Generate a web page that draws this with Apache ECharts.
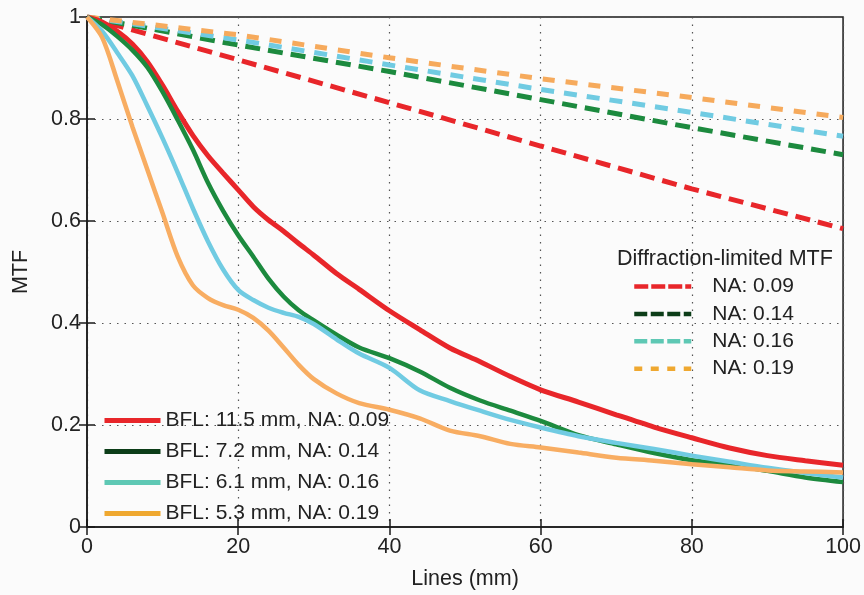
<!DOCTYPE html>
<html>
<head>
<meta charset="utf-8">
<script src="https://cdn.jsdelivr.net/npm/echarts@6/dist/echarts.min.js"></script>
<style>html,body{margin:0;padding:0;background:#fbfbfb;}#c{width:864px;height:595px;}</style>
</head>
<body>
<div id="c"></div>
<script>
// Spatial frequency samples (Lines, mm)
const xMeasured = [0, 2, 4, 6, 8, 10, 12, 14, 16, 18, 20, 22, 24, 26, 28, 30, 33, 36, 40, 44, 48, 52, 56, 60, 65, 70, 75, 80, 85, 90, 95, 100];
// Measured MTF
const mtfBFL115 = [1.0, 0.99, 0.972, 0.947, 0.912, 0.866, 0.815, 0.768, 0.728, 0.694, 0.661, 0.628, 0.602, 0.58, 0.556, 0.533, 0.497, 0.466, 0.424, 0.387, 0.351, 0.324, 0.295, 0.269, 0.245, 0.22, 0.196, 0.175, 0.155, 0.140, 0.130, 0.121];
const mtfBFL72  = [1.0, 0.985, 0.962, 0.935, 0.901, 0.853, 0.798, 0.74, 0.675, 0.62, 0.572, 0.53, 0.487, 0.452, 0.425, 0.405, 0.377, 0.352, 0.331, 0.305, 0.273, 0.248, 0.228, 0.208, 0.18, 0.162, 0.145, 0.131, 0.122, 0.110, 0.097, 0.088];
const mtfBFL61  = [1.0, 0.972, 0.93, 0.885, 0.825, 0.762, 0.695, 0.625, 0.56, 0.505, 0.465, 0.445, 0.43, 0.42, 0.412, 0.398, 0.368, 0.34, 0.312, 0.268, 0.247, 0.228, 0.21, 0.195, 0.178, 0.165, 0.153, 0.14, 0.128, 0.116, 0.106, 0.097];
const mtfBFL53  = [1.0, 0.96, 0.875, 0.785, 0.70, 0.615, 0.53, 0.474, 0.449, 0.435, 0.426, 0.41, 0.385, 0.352, 0.318, 0.29, 0.262, 0.243, 0.23, 0.213, 0.189, 0.178, 0.163, 0.156, 0.146, 0.136, 0.13, 0.123, 0.117, 0.111, 0.109, 0.107];
// Diffraction-limited MTF
const xDiff = [0, 20, 40, 60, 80, 100];
const diffNA009 = [1.0, 0.916, 0.832, 0.747, 0.663, 0.585];
const diffNA014 = [1.0, 0.945, 0.893, 0.838, 0.783, 0.73];
const diffNA016 = [1.0, 0.955, 0.906, 0.858, 0.813, 0.766];
const diffNA019 = [1.0, 0.965, 0.92, 0.879, 0.842, 0.803];
// Labels
const measuredNames = ['BFL: 11.5 mm, NA: 0.09', 'BFL: 7.2 mm, NA: 0.14', 'BFL: 6.1 mm, NA: 0.16', 'BFL: 5.3 mm, NA: 0.19'];
const diffNames = ['NA: 0.09', 'NA: 0.14', 'NA: 0.16', 'NA: 0.19'];
const diffTitle = 'Diffraction-limited MTF';
const xTicks = [0, 20, 40, 60, 80, 100];
const yTicks = [0, 0.2, 0.4, 0.6, 0.8, 1];

const pair = (xs, ys) => xs.map((x, i) => [x, ys[i]]);
const FONT = '"Liberation Sans", Arial, sans-serif';

const lineCol = ['#e8262a', '#1c8a3e', '#70cbe2', '#f8ad62'];
const legSolidCol = ['#e8262a', '#0c3d18', '#5ec8b4', '#efa830'];
const diffCol = ['#e8262a', '#1c8a3e', '#70cbe2', '#f6aa5c'];
const legDiffCol = ['#e8262a', '#0c3d18', '#5ec8b4', '#efa830'];
const dashes = [[15, 8], [15, 8], [13, 10], [12, 11]];
const legDashes = [[14, 3], [13, 3.5], [13, 3.5], [8, 8.5]];

const measured = [mtfBFL115, mtfBFL72, mtfBFL61, mtfBFL53];
const diffs = [diffNA009, diffNA014, diffNA016, diffNA019];

const series = [];
diffs.forEach((d, i) => {
  series.push({
    name: diffNames[i], type: 'line', data: pair(xDiff, d), symbol: 'none', silent: true,
    lineStyle: { color: diffCol[i], width: 5, type: dashes[i] }, itemStyle: { color: diffCol[i] }, z: 2
  });
});
measured.forEach((d, i) => {
  series.push({
    name: measuredNames[i], type: 'line', data: pair(xMeasured, d), symbol: 'none', silent: true, smooth: 0.3,
    lineStyle: { color: lineCol[i], width: i === 0 ? 5 : 4.5 }, itemStyle: { color: lineCol[i] }, z: 3
  });
});

const chart = echarts.init(document.getElementById('c'), null, { renderer: 'canvas' });
chart.setOption({
  backgroundColor: '#fbfbfb',
  animation: false,
  textStyle: { fontFamily: FONT },
  grid: { left: 87, right: 20, top: 17, bottom: 65, show: true, borderColor: '#1a1a1a', borderWidth: 1.5, backgroundColor: 'transparent' },
  title: {
    text: diffTitle, left: 617, top: 248, padding: 0,
    textStyle: { fontFamily: FONT, fontSize: 21.5, fontWeight: 'normal', color: '#222' }
  },
  legend: [
    {
      orient: 'vertical', left: 102, top: 410, padding: 0, itemWidth: 56, itemHeight: 21, itemGap: 10,
      textStyle: { fontFamily: FONT, fontSize: 21, color: '#222' },
      data: measuredNames.map((n, i) => ({ name: n, lineStyle: { color: legSolidCol[i], width: 5, type: 'solid' }, itemStyle: { opacity: 0 } })),
      selectedMode: false
    },
    {
      orient: 'vertical', left: 632, top: 276, padding: 0, itemWidth: 57, itemHeight: 21, itemGap: 6.4,
      textStyle: { fontFamily: FONT, fontSize: 21, color: '#222', padding: [0, 0, 0, 16] },
      data: diffNames.map((n, i) => ({ name: n, lineStyle: { color: legDiffCol[i], width: 4.5, type: legDashes[i] }, itemStyle: { opacity: 0 } })),
      selectedMode: false
    }
  ],
  xAxis: [
    {
      type: 'value', min: 0, max: 100, interval: 20,
      name: 'Lines (mm)', nameLocation: 'middle', nameGap: 41,
      nameTextStyle: { fontFamily: FONT, fontSize: 21.5, color: '#222' },
      axisLine: { show: true, lineStyle: { color: '#1a1a1a', width: 1.5 } },
      axisTick: { show: true, inside: true, length: 8, lineStyle: { color: '#1a1a1a', width: 1.5 } },
      axisLabel: { fontFamily: FONT, fontSize: 21.5, color: '#222', margin: 9,
        formatter: v => xTicks.includes(v) ? String(v) : '' },
      splitLine: { show: true, lineStyle: { color: '#555', width: 1.2, type: [1.5, 6] } }
    },
    {
      type: 'value', min: 0, max: 100, interval: 20, position: 'top',
      axisLine: { show: false }, axisLabel: { show: false }, splitLine: { show: false },
      axisTick: { show: true, inside: true, length: 8, lineStyle: { color: '#1a1a1a', width: 1.5 } }
    }
  ],
  yAxis: [
    {
      type: 'value', min: 0, max: 1, interval: 0.2,
      name: 'MTF', nameLocation: 'middle', nameGap: 55, nameRotate: 90,
      nameTextStyle: { fontFamily: FONT, fontSize: 21.5, color: '#222' },
      axisLine: { show: true, lineStyle: { color: '#1a1a1a', width: 1.5 } },
      axisTick: { show: true, inside: true, length: 8, lineStyle: { color: '#1a1a1a', width: 1.5 } },
      axisLabel: { fontFamily: FONT, fontSize: 21.5, color: '#222', margin: 6,
        formatter: v => { const t = yTicks.find(y => Math.abs(y - v) < 1e-6); return t === undefined ? '' : String(t); } },
      splitLine: { show: true, lineStyle: { color: '#555', width: 1.2, type: [1.5, 6] } }
    },
    {
      type: 'value', min: 0, max: 1, interval: 0.2, position: 'right',
      axisLine: { show: false }, axisLabel: { show: false }, splitLine: { show: false },
      axisTick: { show: true, inside: true, length: 8, lineStyle: { color: '#1a1a1a', width: 1.5 } }
    }
  ],
  series: series
});
</script>
</body>
</html>
